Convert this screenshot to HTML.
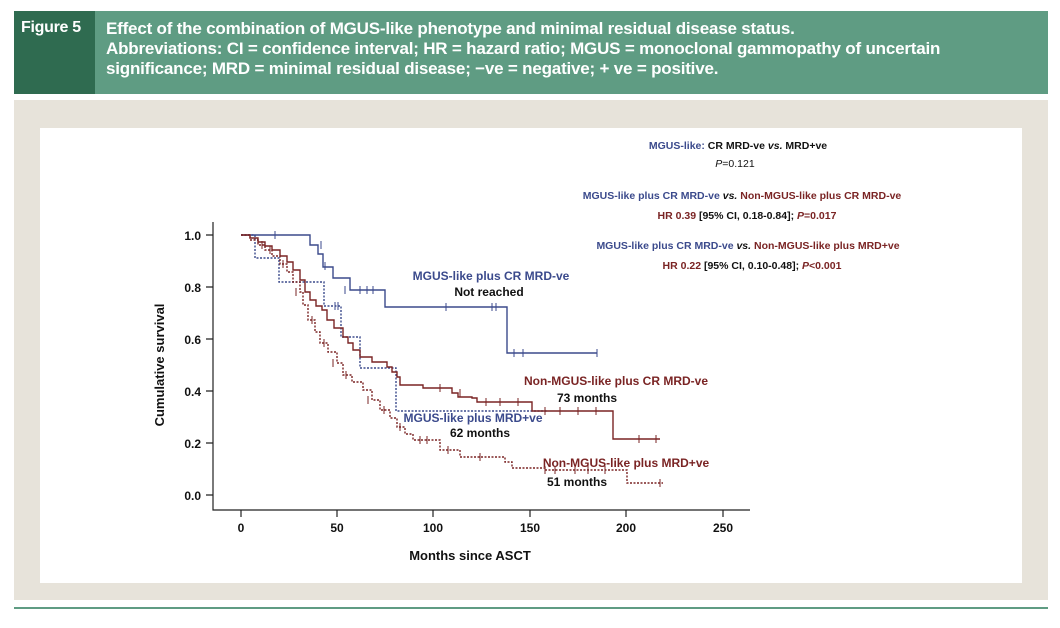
<!DOCTYPE html>
<html><head><meta charset="utf-8"><style>
body{margin:0;width:1060px;height:628px;background:#fff;position:relative;overflow:hidden;font-family:"Liberation Sans",sans-serif}
.hd{position:absolute;left:14px;top:11px;width:1034px;height:83px;background:#5f9c83}
.hd .lab{position:absolute;left:0;top:0;width:81px;height:83px;background:#2f6b50;color:#fff;font:bold 16px "Liberation Sans",sans-serif;padding:8px 0 0 7px;box-sizing:border-box;letter-spacing:-0.3px}
.hd .t{position:absolute;left:92px;top:8px;color:#fff;font:bold 17px/20px "Liberation Sans",sans-serif;letter-spacing:-0.2px;white-space:nowrap}
.bg{position:absolute;left:14px;top:100px;width:1034px;height:500px;background:#e7e3da}
.pn{position:absolute;left:40px;top:128px;width:982px;height:455px;background:#fff}
.ln{position:absolute;left:14px;top:607px;width:1034px;height:2px;background:#5f9c83}
svg{position:absolute;left:0;top:0}
</style></head><body>
<div class="hd"><div class="lab">Figure 5</div><div class="t">Effect of the combination of MGUS-like phenotype and minimal residual disease status.<br>Abbreviations: CI = confidence interval; HR = hazard ratio; MGUS = monoclonal gammopathy of uncertain<br>significance; MRD = minimal residual disease; −ve = negative; + ve = positive.</div></div>
<div class="bg"></div><div class="pn"></div><div class="ln"></div>
<svg width="1060" height="628" font-family="Liberation Sans, sans-serif" font-weight="bold">
<g stroke="#222" stroke-width="1.2" fill="none">
<path d="M213,222V510H750"/>
<path d="M206,235h7M206,287h7M206,339h7M206,391h7M206,443h7M206,495h7"/>
<path d="M241,510v7M337,510v7M433,510v7M530,510v7M626,510v7M723,510v7"/>
</g>
<g font-size="12" text-anchor="end" fill="#111">
<text x="201" y="240">1.0</text><text x="201" y="292">0.8</text><text x="201" y="344">0.6</text><text x="201" y="396">0.4</text><text x="201" y="448">0.2</text><text x="201" y="500">0.0</text></g>
<g font-size="12" text-anchor="middle" fill="#111">
<text x="241" y="532">0</text><text x="337" y="532">50</text><text x="433" y="532">100</text><text x="530" y="532">150</text><text x="626" y="532">200</text><text x="723" y="532">250</text>
<text x="470" y="560" font-size="13">Months since ASCT</text>
<text transform="translate(164,365) rotate(-90)" font-size="13">Cumulative survival</text></g>
<g fill="none" stroke-width="1.4">
<path stroke="#3b4a8c" d="M241,235H310V245H318V254H323V267H333V278H350V290H385V307H507V353H597"/>
<path stroke="#3b4a8c" stroke-dasharray="2,1.5" d="M241,235H255V258H279V282H324V306H341V337H360V368H396V411H548"/>
<path stroke="#7a2424" d="M241,235H250V238H258V242H265V246H272V250H280V256H287V262H293V270H300V280H305V292H310V300H316V306H322V310H327V320H334V328H343V337H348V343H353V350H360V357H372V362H387V367H392V372H397V377H400V385H423V388H452V393H458V397H472V398H477V402H532V411H613V439H660"/>
<path stroke="#7a2424" stroke-dasharray="2,1.5" d="M241,235H250V240H258V245H265V250H272V256H280V264H287V272H293V282H300V292H303V305H308V320H315V332H320V343H328V352H337V363H343V375H352V382H363V390H372V400H380V410H390V418H397V427H405V434H413V440H440V450H460V457H505V462H512V468H545V470H627V483H663"/>
</g>
<g stroke="#3b4a8c" stroke-width="1"><path d="M275,231v8M321,241v8M325,262v8M345,286v8M360,286v8M367,286v8M373,286v8M446,303v8M492,303v8M496,303v8M514,349v8M523,349v8M597,349v8M335,302v8M338,302v8"/></g>
<g stroke="#7a2424" stroke-width="1"><path d="M440,384v8M460,389v8M486,398v8M500,398v8M518,398v8M545,407v8M560,407v8M578,407v8M596,407v8M639,435v8M656,435v8M420,436v8M427,436v8M448,446v8M480,453v8M545,466v8M555,466v8M575,466v8M588,466v8M605,466v8M660,479v8M296,288v8M312,316v8M324,339v8M333,359v8M346,371v8M368,396v8M384,406v8M400,423v8M262,241v8M270,246v8M283,260v8"/></g>
<g font-size="12" text-anchor="middle">
<text x="491" y="280" fill="#3b4a8c">MGUS-like plus CR MRD-ve</text>
<text x="489" y="296" fill="#111">Not reached</text>
<text x="616" y="385" fill="#7a2424">Non-MGUS-like plus CR MRD-ve</text>
<text x="587" y="402" fill="#111">73 months</text>
<text x="473" y="422" fill="#3b4a8c">MGUS-like plus MRD+ve</text>
<text x="480" y="437" fill="#111">62 months</text>
<text x="626" y="467" fill="#7a2424">Non-MGUS-like plus MRD+ve</text>
<text x="577" y="486" fill="#111">51 months</text>
</g>
<g font-size="10.5" text-anchor="middle">
<text x="738" y="149"><tspan fill="#3b4a8c">MGUS-like: </tspan><tspan fill="#111">CR MRD-ve <tspan font-style="italic">vs.</tspan> MRD+ve</tspan></text>
<text x="735" y="167" font-weight="normal" fill="#111"><tspan font-style="italic">P</tspan>=0.121</text>
<text x="742" y="199"><tspan fill="#3b4a8c">MGUS-like plus CR MRD-ve </tspan><tspan fill="#111" font-style="italic">vs.</tspan><tspan fill="#7a2424"> Non-MGUS-like plus CR MRD-ve</tspan></text>
<text x="747" y="219"><tspan fill="#7a2424">HR 0.39 </tspan><tspan fill="#111">[95% CI, 0.18-0.84]; </tspan><tspan fill="#7a2424" font-style="italic">P</tspan><tspan fill="#7a2424">=0.017</tspan></text>
<text x="748" y="249"><tspan fill="#3b4a8c">MGUS-like plus CR MRD-ve </tspan><tspan fill="#111" font-style="italic">vs.</tspan><tspan fill="#7a2424"> Non-MGUS-like plus MRD+ve</tspan></text>
<text x="752" y="269"><tspan fill="#7a2424">HR 0.22 </tspan><tspan fill="#111">[95% CI, 0.10-0.48]; </tspan><tspan fill="#7a2424" font-style="italic">P</tspan><tspan fill="#7a2424">&lt;0.001</tspan></text>
</g>
</svg>
</body></html>
